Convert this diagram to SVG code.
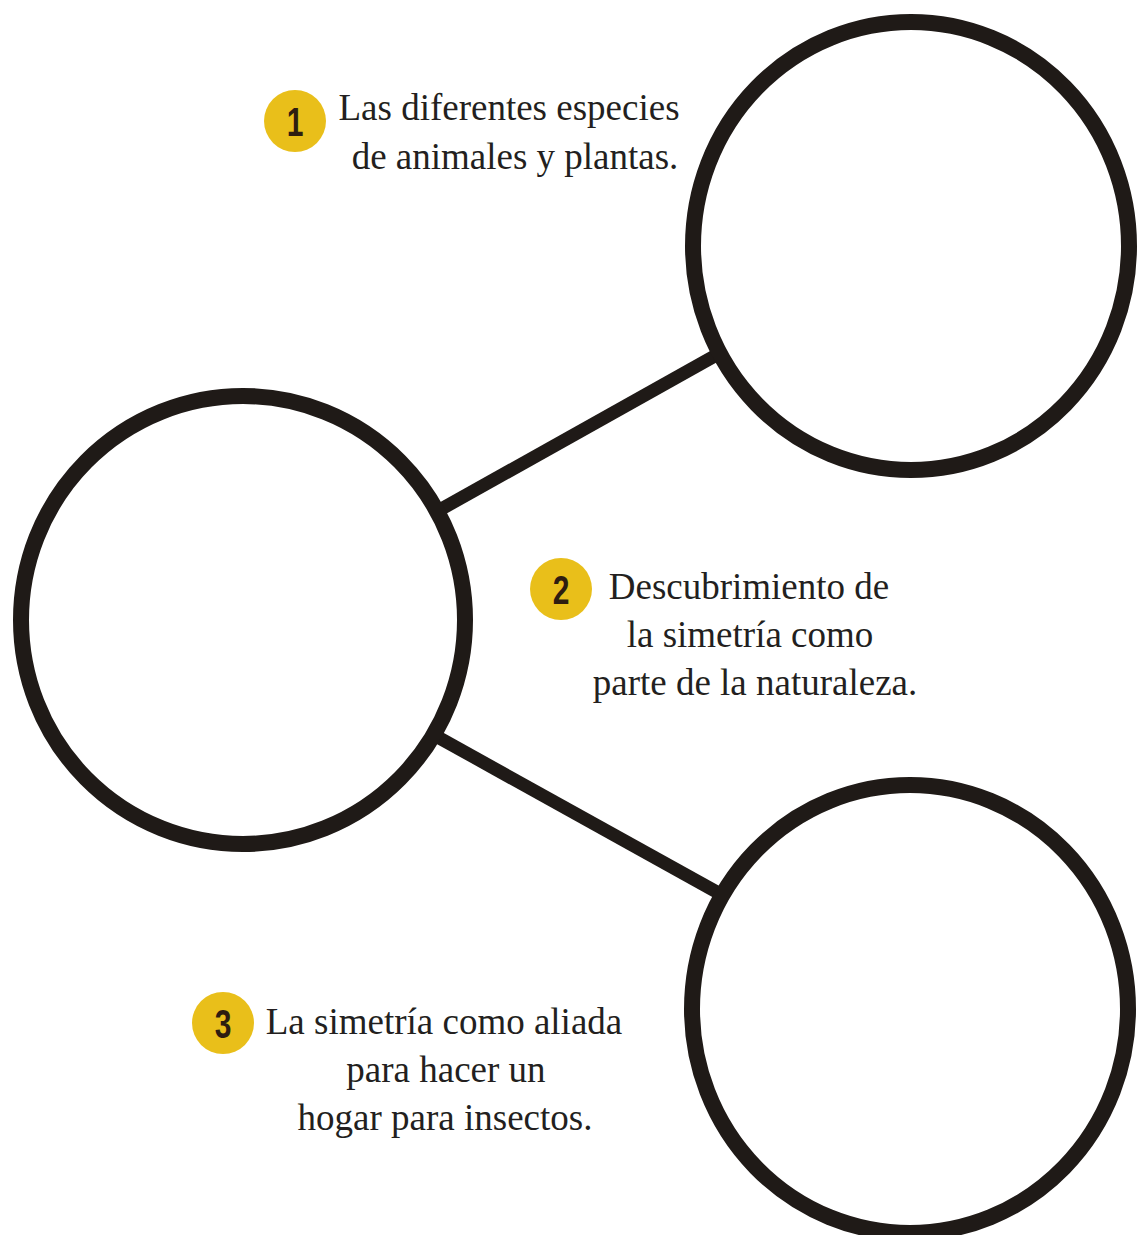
<svg xmlns="http://www.w3.org/2000/svg" width="1139" height="1235" viewBox="0 0 1139 1235">
<style>
.ring{fill:#ffffff;stroke:#1f1a17;stroke-width:16}
.conn{stroke:#1f1a17;stroke-width:13;stroke-linecap:butt;fill:none}
.badge{fill:#e9bf1a}
.num{font-family:"Liberation Sans",Arial,sans-serif;font-weight:bold;font-size:40px;fill:#2e1d10;text-anchor:middle}
.lbl{font-family:"Liberation Serif","Times New Roman",serif;font-size:37px;fill:#231f20;text-anchor:middle}
</style>
<rect width="1139" height="1235" fill="#ffffff"/>
<g id="connectors">
  <line class="conn" x1="436" y1="512" x2="720" y2="353"/>
  <line class="conn" x1="434" y1="735" x2="724" y2="896"/>
</g>
<g id="node-center">
  <ellipse class="ring" cx="243" cy="620" rx="222" ry="224"/>
</g>
<g id="node-top">
  <ellipse class="ring" cx="911" cy="246" rx="218" ry="224"/>
</g>
<g id="node-bottom">
  <ellipse class="ring" cx="910" cy="1009" rx="218" ry="224"/>
</g>
<g id="label-1">
  <circle class="badge" cx="295" cy="121" r="31"/>
  <text class="num" transform="translate(295,136) scale(0.75,1)">1</text>
  <text class="lbl" x="509" y="120">Las diferentes especies</text>
  <text class="lbl" x="515" y="169">de animales y plantas.</text>
</g>
<g id="label-2">
  <circle class="badge" cx="561" cy="589" r="31"/>
  <text class="num" transform="translate(561,604) scale(0.75,1)">2</text>
  <text class="lbl" x="749" y="599">Descubrimiento de</text>
  <text class="lbl" x="750" y="647">la simetría como</text>
  <text class="lbl" x="755" y="695">parte de la naturaleza.</text>
</g>
<g id="label-3">
  <circle class="badge" cx="223" cy="1023" r="31"/>
  <text class="num" transform="translate(223,1038) scale(0.75,1)">3</text>
  <text class="lbl" x="444" y="1034">La simetría como aliada</text>
  <text class="lbl" x="446" y="1082">para hacer un</text>
  <text class="lbl" x="445" y="1130">hogar para insectos.</text>
</g>
</svg>
